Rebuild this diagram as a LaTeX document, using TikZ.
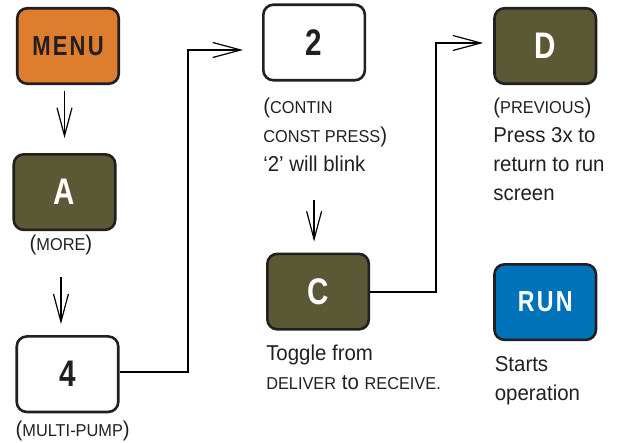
\documentclass[tikz,border=0pt]{standalone}
\usepackage{fontspec}
\setmainfont{Liberation Sans}[FakeStretch=0.95]
\newfontfamily\keyfont{Liberation Sans}[FakeStretch=0.8]
\usetikzlibrary{arrows.meta,positioning}
\definecolor{keyline}{HTML}{231F20}
\definecolor{menuorange}{HTML}{DF7D2F}
\definecolor{keyolive}{HTML}{5B5935}
\definecolor{runblue}{HTML}{0072BA}
\newcommand*{\keycap}[1]{{\fontsize{17.2}{29}\selectfont #1}}

\begin{document}
\begin{tikzpicture}[auto,
    key/.style ={rectangle, rounded corners=10pt, draw=keyline, line width=2.6pt,
      minimum width=101.5pt, minimum height=75.5pt, inner sep=0pt,
      font=\keyfont\bfseries\fontsize{37}{37}\selectfont},
    key_menu/.style ={key, fill=menuorange, text=keyline,
      font=\keyfont\bfseries\fontsize{27.5}{28}\selectfont\addfontfeatures{LetterSpace=8}},
    key_run/.style ={key, fill=runblue, text=white,
      font=\keyfont\bfseries\fontsize{29}{30}\selectfont\addfontfeatures{LetterSpace=8}},
    key_letter/.style ={key, fill=keyolive, text=white},
    key_digit/.style ={key, fill=white, text=keyline},
    note/.style ={align=left, inner sep=0pt, text=keyline,
      font=\fontsize{21.5}{29}\selectfont},
    arrow_down/.style ={draw, line width=1.4pt,
      -{Straight Barb[length=28pt, width=15pt, line width=1.2pt]}},
    arrow_link/.style ={draw, line width=2pt,
      -{Straight Barb[length=28pt, width=15pt, line width=1.2pt]}}]
    \useasboundingbox (0,0) rectangle (621pt,-443pt);
    % left column
    \node [key_menu] (menu) at (68pt,-46pt) {MENU};
    \node [key_letter] (a) [below=68pt of menu, xshift=-3.5pt] {A};
    \node [note] (morelbl) [below right=19pt and 17pt of a.south west, anchor=base west] {(\keycap{MORE})};
    \node [key_digit] (four) [below=104pt of a, xshift=3pt] {4};
    \node [note] (fourlbl) [below right=23.7pt and 0pt of four.south west, anchor=base west] {(\keycap{MULTI-PUMP})};
    % middle column (base = last line)
    \node [key_digit] (two) [right=142pt of menu, yshift=3.5pt] {2};
    \node [note] (twolbl) [below right=90pt and 1pt of two.south west, anchor=base west] {(\keycap{CONTIN}\\
      \keycap{CONST PRESS})\\
      ‘2’ will blink};
    \node [key_letter] (c) [below=171pt of two, xshift=4pt] {C};
    \node [note] (clbl) [below right=58.5pt and 0pt of c.south west, anchor=base west] {Toggle from\\
      \keycap{DELIVER} to \keycap{RECEIVE.}};
    % right column
    \node [key_letter] (d) [right=127pt of two, yshift=-3.5pt] {D};
    \node [note] (dlbl) [below right=115pt and 0pt of d.south west, anchor=base west] {(\keycap{PREVIOUS})\\
      Press 3x to\\
      return to run\\
      screen};
    \node [key_run] (run) [below=178pt of d] {RUN};
    \node [note] (runlbl) [below right=59pt and 1.5pt of run.south west, anchor=base west] {Starts\\
      operation};
    % connecting nodes with paths
    \begin{scope}[every path/.style=arrow_down]
      \path [shorten <=6pt, shorten >=15pt] (a.north |- menu.south) -- (a.north);
      \path [shorten <=22.5pt, shorten >=11pt] (morelbl.south) -- (morelbl.south |- four.north);
      \path [shorten <=28pt, shorten >=11pt] (two.south |- twolbl.south) -- (two.south |- c.north);
    \end{scope}
    \begin{scope}[every path/.style=arrow_link]
      \path [shorten >=19pt] ([yshift=2pt]four.east) -- ++(68pt,0) |- ([yshift=-7.5pt]two.west);
      \path [shorten >=10pt] (c.east) -- ++(66pt,0) |- ([yshift=3pt]d.west);
    \end{scope}
  \end{tikzpicture}
\end{document}
